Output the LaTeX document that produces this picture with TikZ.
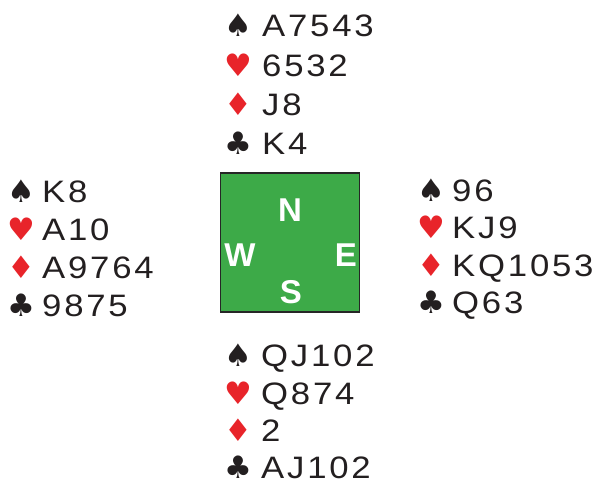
\documentclass[tikz,border=0pt]{standalone}
\usepackage{fontspec}
\setmainfont{Liberation Sans}
\newfontfamily\suitfont{DejaVu Sans}
\definecolor{cardred}{HTML}{E8242A}
\definecolor{cardink}{HTML}{231F20}
\definecolor{tablegreen}{HTML}{3DAA48}
\begin{document}
\begin{tikzpicture}[x=1pt,y=1pt,
  suit/.style={font=\suitfont\fontsize{31}{31}\selectfont, inner sep=0pt, anchor=base, text=cardink},
  redsuit/.style={suit, text=cardred},
  cards/.style={font=\addfontfeatures{FakeStretch=1.12,LetterSpace=9}\fontsize{31}{31}\selectfont, inner sep=0pt, anchor=base west, text=cardink},
  compass/.style={font=\bfseries\fontsize{33}{33}\selectfont, text=white, inner sep=0pt, anchor=base},
  table/.style={draw=black!85, line width=1.8pt, fill=tablegreen}
]
\useasboundingbox (0,0) rectangle (595,485);
% table
\node[table, minimum width=139pt, minimum height=139pt, inner sep=0pt] (tbl) at (290,242.5) {};
\node[compass] (n) at (290,263) {N};
\node[compass] (w) at (240,218) {W};
\node[compass] (e) at (346,218) {E};
\node[compass] (s) at (291,181) {S};
% North
\node[suit] (ns) at (238,448) {♠};
\node[cards] (nst) at (262,448) {A7543};
\node[redsuit] (nh) at (238,408.7) {♥};
\node[cards] (nht) at (262,408.7) {6532};
\node[redsuit] (nd) at (238,369.4) {♦};
\node[cards] (ndt) at (262,369.4) {J8};
\node[suit] (nc) at (238,330) {♣};
\node[cards] (nct) at (262,330) {K4};
% West
\node[suit] (ws) at (21,282) {♠};
\node[cards] (wst) at (42,282) {K8};
\node[redsuit] (wh) at (21,244) {♥};
\node[cards] (wht) at (42,244) {A10};
\node[redsuit] (wd) at (21,206) {♦};
\node[cards] (wdt) at (42,206) {A9764};
\node[suit] (wc) at (21,168) {♣};
\node[cards] (wct) at (42,168) {9875};
% East
\node[suit] (es) at (431,283) {♠};
\node[cards] (est) at (452,283) {96};
\node[redsuit] (eh) at (431,246) {♥};
\node[cards] (eht) at (452,246) {KJ9};
\node[redsuit] (ed) at (431,208) {♦};
\node[cards] (edt) at (452,208) {KQ1053};
\node[suit] (ec) at (431,171) {♣};
\node[cards] (ect) at (452,171) {Q63};
% South
\node[suit] (ss) at (238,118) {♠};
\node[cards] (sst) at (261,118) {QJ102};
\node[redsuit] (sh) at (238,80) {♥};
\node[cards] (sht) at (261,80) {Q874};
\node[redsuit] (sd) at (238,43) {♦};
\node[cards] (sdt) at (261,43) {2};
\node[suit] (sc) at (238,6) {♣};
\node[cards] (sct) at (261,6) {AJ102};
\end{tikzpicture}
\end{document}
